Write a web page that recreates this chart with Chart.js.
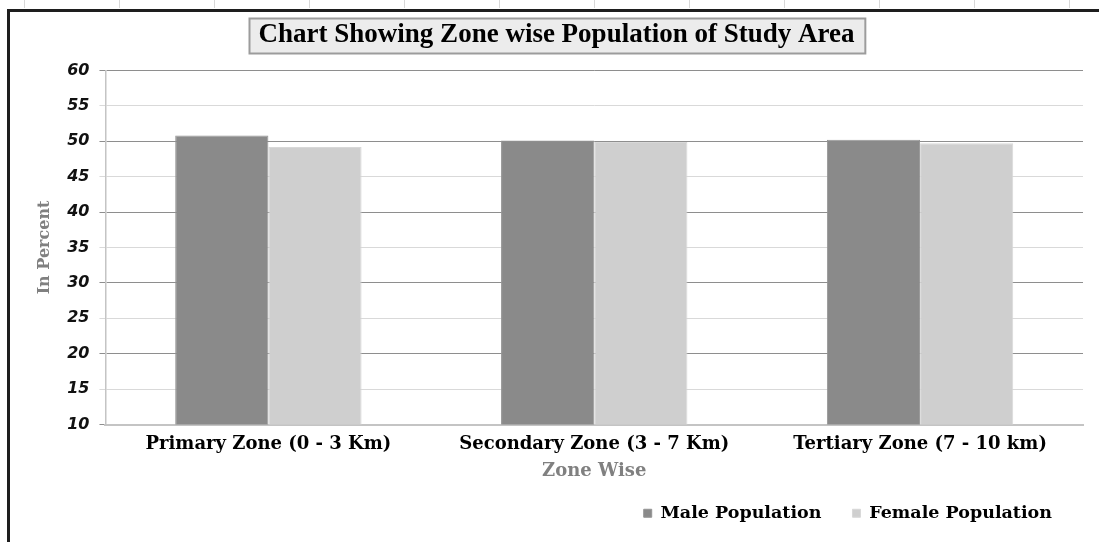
<!DOCTYPE html>
<html>
<head>
<meta charset="utf-8">
<title>Zone wise Population of Study Area</title>
<script src="https://cdn.jsdelivr.net/npm/chart.js@4.4.1/dist/chart.umd.min.js"></script>
<style>
  html, body { margin: 0; padding: 0; background: #fff; }
  body { width: 1099px; height: 542px; position: relative; overflow: hidden; }
  /* faint sheet column lines above the chart frame */
  .cols {
    position: absolute; left: 0; top: 0; width: 1099px; height: 8px;
    background: repeating-linear-gradient(to right, transparent 0, transparent 24px, #d8d8d8 24px, #d8d8d8 25px, transparent 25px, transparent 95px);
  }
  .frame {
    position: absolute; left: 7px; top: 9px; right: -10px; bottom: -10px;
    border-top: 3px solid #1e1e1e; border-left: 3px solid #1e1e1e;
  }
  .box { position: absolute; left: 10px; top: 12px; width: 1089px; height: 530px; }
</style>
</head>
<body>
<div class="cols"></div>
<div class="frame"></div>
<div class="box"><canvas id="zone-chart"></canvas></div>
<script>
  // Share of male / female population in each zone, percent
  const ZONES = ["Primary Zone (0 - 3 Km)", "Secondary Zone (3 - 7 Km)", "Tertiary Zone (7 - 10 km)"];
  const MALE = [50.8, 50.1, 50.2];
  const FEMALE = [49.2, 49.9, 49.7];
  const Y_MIN = 10;
  const Y_MAX = 60;
  const Y_STEP = 5;

  const SERIF = "'DejaVu Serif', serif";

  // grey framed box behind the chart title
  const titleBox = {
    id: "titleBox",
    beforeDraw(chart) {
      const tb = chart.titleBlock;
      if (!tb) return;
      const ctx = chart.ctx;
      const f = chart.options.plugins.title.font;
      ctx.save();
      ctx.font = f.weight + " " + f.size + "px " + f.family;
      const w = ctx.measureText(chart.options.plugins.title.text).width;
      const cx = (tb.left + tb.right) / 2;
      const cy = tb.top + tb.options.padding.top + (f.size * f.lineHeight) / 2;
      const x = Math.round(cx - w / 2 - 10) + 0.5;
      const y = Math.round(cy - 17) + 0.5;
      ctx.fillStyle = "#ececec";
      ctx.fillRect(x, y, w + 20, 35);
      ctx.strokeStyle = "#9c9c9c";
      ctx.lineWidth = 2;
      ctx.strokeRect(x, y, w + 20, 35);
      ctx.restore();
    }
  };

  new Chart(document.getElementById("zone-chart"), {
    type: "bar",
    data: {
      labels: ZONES,
      datasets: [
        {
          label: "Male Population",
          data: MALE,
          backgroundColor: "#8a8a8a",
          borderColor: "#959595",
          borderWidth: 1,
          categoryPercentage: 0.572,
          barPercentage: 1
        },
        {
          label: "Female Population",
          data: FEMALE,
          backgroundColor: "#cfcfcf",
          borderColor: "#d8d8d8",
          borderWidth: 1,
          categoryPercentage: 0.572,
          barPercentage: 1
        }
      ]
    },
    options: {
      responsive: true,
      maintainAspectRatio: false,
      animation: false,
      layout: { padding: { left: 20, right: 16, top: 0, bottom: 10 } },
      plugins: {
        title: {
          display: true,
          text: "Chart Showing Zone wise Population of Study Area",
          color: "#000",
          font: { family: "'Liberation Serif', serif", size: 27, weight: "bold", lineHeight: 1.2 },
          padding: { top: 7, bottom: 19 }
        },
        legend: {
          position: "bottom",
          align: "end",
          labels: {
            color: "#000",
            boxWidth: 8,
            boxHeight: 8,
            padding: 31,
            font: { family: SERIF, size: 17.5, weight: "bold" }
          }
        },
        tooltip: { enabled: false }
      },
      scales: {
        x: {
          grid: { display: false, drawTicks: false },
          border: { color: "#c4c4c4", width: 2 },
          ticks: {
            color: "#000",
            padding: 11,
            font: { family: SERIF, size: 18, weight: "bold", lineHeight: 1 }
          },
          title: {
            display: true,
            text: "Zone Wise",
            color: "#808080",
            font: { family: SERIF, size: 18, weight: "bold", lineHeight: 1 },
            padding: { top: -2, bottom: -7 }
          }
        },
        y: {
          min: Y_MIN,
          max: Y_MAX,
          grid: {
            tickLength: 6,
            lineWidth: 1,
            color: (c) => (c.tick && c.tick.value % 10 === 0 ? "#8e8e8e" : "#d9d9d9")
          },
          border: { color: "#c4c4c4", width: 1.5 },
          ticks: {
            stepSize: Y_STEP,
            color: "#111",
            padding: 10,
            font: { family: "'DejaVu Sans', sans-serif", size: 16, style: "italic", weight: "bold" }
          },
          title: {
            display: true,
            text: "In Percent",
            color: "#808080",
            font: { family: SERIF, size: 16, weight: "bold", lineHeight: 1.2 },
            padding: { top: 5, bottom: 3 }
          }
        }
      }
    },
    plugins: [titleBox]
  });
</script>
</body>
</html>
